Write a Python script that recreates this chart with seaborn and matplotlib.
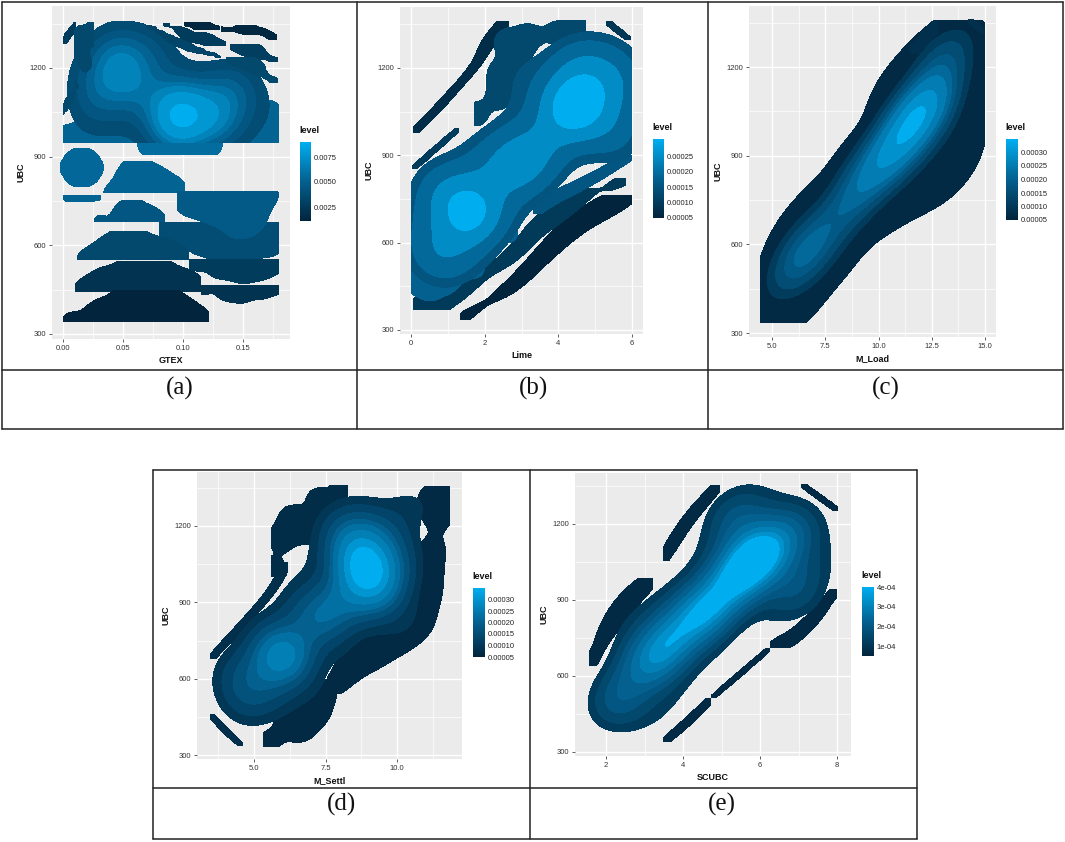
import numpy as np
import matplotlib
matplotlib.use("Agg")
import matplotlib.pyplot as plt
from matplotlib.colors import LinearSegmentedColormap, Normalize
from matplotlib.colorbar import ColorbarBase
from matplotlib.lines import Line2D
from matplotlib.patches import Rectangle
import seaborn as sns

# ---------- data: ridge and edge points of each density region ----------
ubc_ticks = [300, 600, 900, 1200]

a_main_x = [.045, .03, .06, .096, .096, .125, .07, .14, .02, .026, .042, .09, .125, .155, .172, .02, .05, .15, .097]
a_main_y = [1220, 1120, 1130, 1055, 1000, 1030, 1250, 1120, 1200, 1060, 1290, 1215, 1160, 1110, 1040, 1000, 970, 970, 960]
a_main_w = [5, 3, 4, 10, 4, 6, 2, 3, .6, .6, .8, .6, .6, .6, .6, .6, .6, .6, .6]
a_base_x = [.0, .04, .09, .14, .178, .172, .16, .02, .06]
a_base_y = [952, 955, 960, 955, 950, 1040, 1000, 975, 1000]
a_dip_x = [.07, .097, .125, .085, .11]
a_dip_y = [940, 925, 940, 950, 950]
a_circ_x = [.0156, .0105, .0207, .0156, .0156]
a_circ_y = [863, 863, 863, 840, 886]
a_lump1_x = [.04, .055, .065, .08, .096, .06]
a_lump1_y = [770, 840, 850, 825, 790, 790]
a_strip1_x = [.003, .015, .03, .015]
a_strip1_y = [775, 765, 775, 775]
a_trap_x = [.103, .125, .15, .176, .125, .145, .16, .105, .15]
a_trap_y = [775, 775, 775, 775, 710, 660, 690, 745, 720]
a_wing_x = [.085, .11, .14, .17, .178, .145, .12]
a_wing_y = [665, 640, 590, 610, 650, 580, 620]
a_lump2_x = [.03, .05, .058, .07, .08, .055]
a_lump2_y = [680, 705, 725, 700, 680, 680]
a_arch3_x = [.017, .035, .05, .065, .085, .102, .05, .08]
a_arch3_y = [550, 585, 620, 610, 575, 550, 550, 550]
a_lens2_x = [.11, .13, .15, .165, .178, .145]
a_lens2_y = [550, 525, 515, 525, 550, 550]
a_arch2_x = [.015, .035, .055, .08, .1, .113, .06, .085, .035]
a_arch2_y = [445, 480, 535, 535, 480, 445, 445, 445, 445]
a_lens3_x = [.117, .135, .15, .165, .178, .145]
a_lens3_y = [462, 445, 440, 450, 465, 465]
a_tri_x = [.005, .03, .05, .067, .085, .1, .118, .065, .035, .095]
a_tri_y = [345, 370, 430, 440, 430, 380, 345, 345, 345, 345]
a_s1_x = [.101, .117, .116, .131]
a_s1_y = [1354, 1345, 1335, 1330]
a_s1b_x = [.132, .153, .15, .168, .178]
a_s1b_y = [1332, 1345, 1325, 1322, 1296]
a_s2_x = [.083, .1, .105, .12, .122, .136]
a_s2_y = [1352, 1325, 1300, 1305, 1285, 1275]
a_s3_x = [.139, .16, .155, .179]
a_s3_y = [1280, 1272, 1250, 1219]
a_s4_x = [.069, .1, .098, .132]
a_s4_y = [1346, 1285, 1275, 1234]
a_s5_x = [.136, .16, .155, .179]
a_s5_y = [1236, 1222, 1200, 1149]
a_l1_x = [.0, .006, .004, .011]
a_l1_y = [1280, 1320, 1310, 1354]
a_l2_x = [.009, .013, .02, .025, .026, .013]
a_l2_y = [1130, 1250, 1210, 1300, 1354, 1320]
a_l3_x = [.0, .006, .003, .01]
a_l3_y = [1042, 1090, 1085, 1132]

b_main_x = [1.6, 4.4, 3.0, 0.9, 5.2, 4.6, 2.3, 5.5, 3.6, 1.0, .25, .7, 1.7, 2.47, 2.85, 3.2, 4.4, 5.2, 5.7, 5.7, 5.8, 5.8, 5.3, 3.8, 3.15, 2.6, 1.7, .9, .4, .3]
b_main_y = [700, 1065, 880, 560, 1130, 1200, 830, 980, 960, 780, 712, 800, 900, 960, 1130, 1200, 1220, 1260, 1200, 1170, 1131, 1010, 930, 880, 810, 690, 560, 535, 565, 631]
b_main_w = [10, 12, 5, 3, 3, 3, 3, 2, 3, 3, 1, 1, 1, 1, 1, 1, 1, 1, 1, 1, 1, 1, 1, 1, 1, 1, 1, 1, 1, 1]
b_s1_x = [.05, .9, 1.75, 2.2, 2.65]
b_s1_y = [976, 1085, 1205, 1320, 1362]
b_s2_x = [.03, .65, 1.3]
b_s2_y = [852, 920, 993]
b_s3_x = [1.75, 2.4, 2.4, 2.6, 3.2, 4.0, 4.7, 2.9]
b_s3_y = [1040, 1100, 1180, 1290, 1310, 1320, 1362, 1240]
b_s4_x = [5.3, 5.6, 5.97]
b_s4_y = [1362, 1330, 1295]
b_l1_x = [1.34, 2.8, 3.7, 4.4, 5.2, 6.0]
b_l1_y = [335, 455, 570, 665, 720, 765]
b_l2_x = [0.05, .5, 1.3, 2.7, 3.6, 4.3, 5.85]
b_l2_y = [378, 370, 430, 550, 670, 735, 822]
b_l3_x = [.05, .5, 1.0, 1.7, 2.6, .8]
b_l3_y = [476, 445, 480, 520, 640, 500]
b_l4_x = [3.3, 3.8, 4.5, 5.2, 6.0]
b_l4_y = [700, 755, 790, 840, 900]

c_base_x = [5.0, 5.3, 6.5, 8.5, 10.3, 11.5, 12.6, 13.3, 14.0, 14.4, 14.1, 13.7, 13.8, 13.3, 12.0, 10.4, 8.4, 6.4, 5.5, 5.2, 6, 8, 10, 12, 13.5]
c_base_y = [447, 600, 730, 910, 1110, 1195, 1270, 1295, 1250, 1174, 1056, 977, 890, 830, 785, 690, 530, 385, 385, 410, 500, 720, 900, 1000, 1150]
c_main_x = [12.1, 11.2, 10.2, 8.8, 7.0, 5.9, 13.0, 13.4, 6.0, 5.7, 6.1, 8.8, 10.6, 12.3, 13.8, 14.5, 13.9, 13.2, 11.4, 8.9, 7.6]
c_main_y = [1060, 960, 880, 760, 610, 510, 1210, 1270, 470, 510, 640, 870, 1070, 1270, 1270, 1170, 1000, 900, 810, 660, 510]
c_main_w = [15, 9, 9, 7, 7, 4, 4, 1.5, 1, 1, 1, 1, 1, 1, 1, 1, 1, 1, 1, 1, 1]
c_s1_x = [11.5, 12.2, 12.85]
c_s1_y = [1245, 1295, 1356]
c_s2_x = [14.2, 14.6, 15.0]
c_s2_y = [1362, 1340, 1313]

d_main_x = [8.9, 8.5, 9.2, 6.0, 7.2, 5.0, 9.6, 8.0, 10.2, 4.1, 4.3, 5.3, 6.3, 6.6, 7.6, 8.6, 10.4, 10.9, 10.8, 10, 8.4, 7.3, 6.0, 4.95, 4.4]
d_main_y = [1040, 1140, 950, 690, 830, 580, 1170, 900, 1050, 590, 667, 800, 920, 1070, 1220, 1280, 1310, 1270, 830, 760, 660, 530, 500, 470, 500]
d_main_w = [15, 7, 8, 12, 6, 4, 3, 5, 2, 1, 1, 1, 1, 1, 1, 1, 1, 1, 1, 1, 1, 1, 1, 1, 1]
d_s1_x = [3.45, 4.5, 5.55, 6.2]
d_s1_y = [676, 800, 930, 1058]
d_s2_x = [5.7, 5.95, 6.35, 7.3, 8.24, 6.9]
d_s2_y = [1022, 1150, 1230, 1300, 1360, 1180]
d_s3_x = [3.45, 4.0, 4.6]
d_s3_y = [462, 395, 335]
d_s4_x = [6.2, 5.5, 6.6, 7.2, 7.5, 6.8]
d_s4_y = [458, 350, 400, 480, 560, 470]
d_s5_x = [7.8, 8.4, 9.2, 9.8, 10.3, 10.8, 11.0, 11.15, 11.3, 11.5, 11.55, 11.2, 10.9, 10, 8.5]
d_s5_y = [570, 640, 690, 740, 780, 820, 900, 980, 1110, 1240, 1330, 1290, 1050, 850, 720]

e_main_x = [6.0, 5.4, 4.6, 3.2, 3.8, 2.3, 6.7, 5.4, 6.9, 2.1, 2.45, 2.85, 3.6, 4.25, 5.0, 5.6, 6.4, 7.2, 7.6, 7.75, 7.2, 6.2, 5.0, 4.1, 3.48, 2.87, 2.3]
e_main_y = [1080, 990, 860, 660, 760, 510, 1150, 1210, 950, 560, 760, 850, 930, 1090, 1240, 1320, 1310, 1240, 1140, 1040, 890, 790, 640, 520, 440, 420, 475]
e_main_w = [14, 13, 13, 10, 9, 4, 5, 4, 4, 1, 1, 1, 1, 1, 1, 1, 1, 1, 1, 1, 1, 1, 1, 1, 1, 1, 1]
e_s1_x = [1.56, 2.15, 2.5, 3.22]
e_s1_y = [638, 810, 890, 987]
e_s2_x = [3.48, 4.05, 4.95]
e_s2_y = [1053, 1210, 1355]
e_s3_x = [7.07, 7.55, 8.03]
e_s3_y = [1358, 1305, 1253]
e_s4_x = [3.48, 4.15, 4.74]
e_s4_y = [338, 420, 513]
e_s5_x = [4.74, 5.5, 6.25]
e_s5_y = [513, 610, 710]
e_s6_x = [6.25, 6.94, 7.4, 8.0]
e_s6_y = [710, 755, 830, 945]

# ---------- palette ----------
DARK, BRIGHT = "#02243c", "#00aef0"
level_cmap = LinearSegmentedColormap.from_list("level", [DARK, "#03608f", BRIGHT])
def shade(t):
    return matplotlib.colors.to_hex(level_cmap(t))

W, H = 1065, 842
sns.set_theme(style="white")
plt.rcParams["font.family"] = ["Liberation Sans", "DejaVu Sans"]
fig = plt.figure(figsize=(W / 100, H / 100), dpi=100, facecolor="white")


def make_axes(box, xa, ya, xticks, xlabels, xlabel):
    x0, x1, y0, y1 = box
    ax = fig.add_axes([x0 / W, 1 - y1 / H, (x1 - x0) / W, (y1 - y0) / H])
    (v1, p1), (v2, p2) = xa
    sx = (v2 - v1) / (p2 - p1)
    xlim = (v1 + (x0 - p1) * sx, v1 + (x1 - p1) * sx)
    (u1, q1), (u2, q2) = ya
    sy = (u2 - u1) / (q2 - q1)
    ylim = (u1 + (y1 - q1) * sy, u1 + (y0 - q1) * sy)
    ax.set_xlim(xlim)
    ax.set_ylim(ylim)
    ax.set_facecolor("#EBEBEB")
    for s in ax.spines.values():
        s.set_visible(False)
    ax.set_axisbelow(True)
    ax.set_xticks(xticks)
    ax.set_xticklabels(xlabels)
    ax.set_yticks(ubc_ticks)
    ax.set_yticklabels([str(t) for t in ubc_ticks])
    step = xticks[1] - xticks[0]
    minor = [xticks[0] - step / 2] + [t + step / 2 for t in xticks]
    ax.set_xticks([m for m in minor if xlim[0] < m < xlim[1]], minor=True)
    ax.set_yticks([450, 750, 1050, 1350], minor=True)
    ax.grid(True, which="major", color="white", lw=1.0)
    ax.grid(True, which="minor", color="white", lw=0.5)
    ax.tick_params(which="minor", length=0)
    ax.tick_params(which="major", length=2, width=.6, color="#444444", labelsize=5.5,
                   labelcolor="#333333", pad=2, left=True, bottom=True)
    ax.set_xlabel(xlabel, fontsize=6.5, color="#111111", labelpad=3, fontweight="bold")
    ax.set_ylabel("UBC", fontsize=6.5, color="#111111", labelpad=3, fontweight="bold")
    ax.set_autoscale_on(False)
    ax.px_scale = (abs(1 / sx), abs(1 / sy))
    return ax


def clip_new(ax, before, box):
    if box is None:
        return
    xl, xh, yl, yh = box
    for c in ax.collections[before:]:
        c.set_clip_path(Rectangle((xl, yl), xh - xl, yh - yl, transform=ax.transData))


def kernel_setup(ax, xs, ys, w, kernel_px, ratio):
    """seaborn's kernel copies the covariance of the points. Two small off-panel weights set that
    covariance, so the kernel has the pixel size and the length/width ratio asked for."""
    kx, ky = ax.px_scale
    xs, ys = np.asarray(xs, float), np.asarray(ys, float)
    w = np.ones_like(xs) if w is None else np.asarray(w, float)
    w = w / w.sum()
    P = np.c_[xs * kx, ys * ky]
    C = np.cov(P.T, aweights=w, bias=False)
    vals, vecs = np.linalg.eigh(C)
    lm, lM = vals
    D = 520.0
    eps = (lM / ratio ** 2 - lm) / (D ** 2 + lM / ratio ** 2 - lm)
    if eps > 1e-5:
        c = (P * w[:, None]).sum(0)
        far = np.array([c + D * vecs[:, 0], c - D * vecs[:, 0]])
        xs = np.r_[xs, far[:, 0] / kx]
        ys = np.r_[ys, far[:, 1] / ky]
        w = np.r_[w * (1 - eps), eps / 2, eps / 2]
    P2 = np.c_[xs * kx, ys * ky]
    C2 = np.cov(P2.T, aweights=w, bias=False)
    scott = (1 / (w ** 2).sum()) ** (-1 / 6)
    bw = kernel_px / (np.sqrt(np.linalg.eigvalsh(C2)[1]) * scott)
    return xs, ys, w, bw


def blob(ax, xs, ys, t, level=.2, px=14, ratio=1.0, box=None, w=None):
    """One flat piece: the region above an iso-density line, in one shade."""
    before = len(ax.collections)
    X, Y, W8, bw = kernel_setup(ax, xs, ys, w, px, ratio)
    sns.kdeplot(x=X, y=Y, weights=W8, ax=ax, fill=True, levels=[level, 1.0], color=shade(t),
                colors=[shade(t)], bw_adjust=bw, cut=3, gridsize=420)
    clip_new(ax, before, box)


def sliver(ax, xs, ys, t, width=7, level=.42, px=None):
    """A thin lens: clipped to the span of its own points, so its tips end where they were read."""
    kx, ky = ax.px_scale
    length = np.hypot((max(xs) - min(xs)) * kx, (max(ys) - min(ys)) * ky)
    along = length / max(len(xs) - 1, 1) * .62 if px is None else px
    blob(ax, xs, ys, t, level, along, along / width, (min(xs), max(xs), min(ys), max(ys)))


def body(ax, xs, ys, w, levels, ts, px, ratio, box):
    before = len(ax.collections)
    X, Y, W8, bw = kernel_setup(ax, xs, ys, w, px, ratio)
    sns.kdeplot(x=X, y=Y, weights=W8, ax=ax, fill=True, levels=list(levels) + [1.0],
                color=shade(ts[0]), colors=[shade(t) for t in ts], bw_adjust=bw, cut=3, gridsize=420)
    clip_new(ax, before, box)


def legend(box, vmin, vmax, ticks, labels):
    x0, x1, y0, y1 = box
    cax = fig.add_axes([x0 / W, 1 - y1 / H, (x1 - x0) / W, (y1 - y0) / H])
    cb = ColorbarBase(cax, cmap=level_cmap, norm=Normalize(vmin, vmax), ticks=ticks)
    cb.set_ticklabels(labels)
    cb.outline.set_visible(False)
    cax.tick_params(length=2, width=.5, direction="in", color="white", labelsize=5.5,
                    labelcolor="#222222", pad=2, right=True)
    fig.text((x0 - 1) / W, 1 - (y0 - 7) / H, "level", fontsize=6.5, fontweight="bold",
             color="#111111", va="bottom")


# ---------- panel a ----------
ax = make_axes((52, 290, 6, 339), ((0, 63), (.15, 243)), ((300, 334), (1200, 68)),
               [0, .05, .10, .15], ["0.00", "0.05", "0.10", "0.15"], "GTEX")
blob(ax, a_base_x, a_base_y, .52, .3, 12, 1.0, (0, .18, 946, 1100))
body(ax, a_main_x, a_main_y, a_main_w, [.1, .2, .32, .45, .6, .78, .94],
     [.33, .42, .52, .62, .72, .85, 1.0], 21, 1.0, (0, .18, 946, 1360))
blob(ax, a_dip_x, a_dip_y, .58, .3, 11, 1.0, (0, .18, 905, 947))
blob(ax, a_circ_x, a_circ_y, .55, .25, 12)
blob(ax, a_lump1_x, a_lump1_y, .52, .32, 12, 1.0, (.03, .102, 777, 885))
blob(ax, a_strip1_x, a_strip1_y, .52, .35, 8, 1.0, (0, .032, 745, 771))
blob(ax, a_wing_x, a_wing_y, .33, .3, 14, 1.0, (.08, .18, 530, 680))
blob(ax, a_trap_x, a_trap_y, .45, .3, 14, 1.0, (.095, .18, 600, 783))
blob(ax, a_lump2_x, a_lump2_y, .42, .35, 10, 1.0, (.022, .085, 679, 755))
blob(ax, a_arch3_x, a_arch3_y, .3, .32, 13, 1.0, (.012, .105, 550, 650))
blob(ax, a_lens2_x, a_lens2_y, .2, .3, 11, 1.0, (.105, .18, 470, 553))
blob(ax, a_arch2_x, a_arch2_y, .13, .32, 13, 1.0, (.01, .115, 442, 546))
blob(ax, a_lens3_x, a_lens3_y, .13, .32, 9, 1.0, (.115, .18, 400, 466))
blob(ax, a_tri_x, a_tri_y, .0, .32, 13, 1.0, (0, .122, 340, 450))
sliver(ax, a_s1_x, a_s1_y, .03, 3)
sliver(ax, a_s1b_x, a_s1b_y, .03, 3)
sliver(ax, a_s2_x, a_s2_y, .2, 4)
sliver(ax, a_s3_x, a_s3_y, .22, 4)
sliver(ax, a_s4_x, a_s4_y, .27, 2)
sliver(ax, a_s5_x, a_s5_y, .3, 4)
sliver(ax, a_l1_x, a_l1_y, .2, 2)
sliver(ax, a_l2_x, a_l2_y, .3, 5)
sliver(ax, a_l3_x, a_l3_y, .3, 2)
legend((300, 311, 142, 221), .0011, .0090, [.0025, .005, .0075], ["0.0025", "0.0050", "0.0075"])

# ---------- panel b ----------
ax = make_axes((400, 643, 7, 334), ((0, 411), (6, 632)), ((300, 330), (1200, 68)),
               [0, 2, 4, 6], ["0", "2", "4", "6"], "Lime")
sliver(ax, b_l1_x, b_l1_y, .0, 8)
sliver(ax, b_l2_x, b_l2_y, .18, 8)
sliver(ax, b_s1_x, b_s1_y, .08, 4)
sliver(ax, b_s2_x, b_s2_y, .2, 2)
blob(ax, b_s3_x, b_s3_y, .3, .3, 11, 1.0, (1.7, 4.75, 1000, 1365))
sliver(ax, b_s4_x, b_s4_y, .15, 2)
blob(ax, b_l3_x, b_l3_y, .5, .3, 11, 1.0, (0, 6, 400, 800))
sliver(ax, b_l4_x, b_l4_y, .42, 5)
body(ax, b_main_x, b_main_y, b_main_w, [.13, .22, .46, .82], [.4, .56, .78, 1.0], 23, 1.0, (0, 6, 330, 1400))

# ---------- panel c ----------
ax = make_axes((749, 996, 6, 337), ((5, 772), (15, 985)), ((300, 333), (1200, 67)),
               [5, 7.5, 10, 12.5, 15], ["5.0", "7.5", "10.0", "12.5", "15.0"], "M_Load")
blob(ax, c_base_x, c_base_y, .05, .2, 32, 2.0, (4.45, 15, 335, 1360))
sliver(ax, c_s1_x, c_s1_y, .1, 4)
sliver(ax, c_s2_x, c_s2_y, .1, 2)
body(ax, c_main_x, c_main_y, c_main_w, [.2, .3, .42, .55, .68, .82, .95],
     [.2, .34, .44, .56, .68, .82, 1.0], 30, 1.8, (4.5, 15, 335, 1400))

# ---------- panel d ----------
ax = make_axes((197, 462, 472, 759), ((5, 254), (10, 397)), ((300, 755), (1200, 526)),
               [5, 7.5, 10], ["5.0", "7.5", "10.0"], "M_Settl")
sliver(ax, d_s1_x, d_s1_y, .1, 3)
sliver(ax, d_s3_x, d_s3_y, .1, 2)
blob(ax, d_s2_x, d_s2_y, .08, .3, 11, 1.0, (5.6, 8.3, 1000, 1362))
blob(ax, d_s4_x, d_s4_y, .05, .3, 13, 1.0, (5.3, 7.9, 333, 600))
blob(ax, d_s5_x, d_s5_y, .05, .3, 14, 1.0, (7.4, 11.85, 500, 1358))
body(ax, d_main_x, d_main_y, d_main_w, [.14, .22, .32, .44, .56, .7, .82, .9],
     [.16, .28, .38, .5, .6, .7, .84, 1.0], 21, 1.0, (3.4, 12, 330, 1400))

# ---------- panel e ----------
ax = make_axes((575, 851, 473, 756), ((2, 606), (8, 837)), ((300, 752), (1200, 524)),
               [2, 4, 6, 8], ["2", "4", "6", "8"], "SCUBC")
sliver(ax, e_s1_x, e_s1_y, .05, 7)
sliver(ax, e_s2_x, e_s2_y, .05, 4)
sliver(ax, e_s3_x, e_s3_y, .05, 2)
sliver(ax, e_s4_x, e_s4_y, .05, 3)
sliver(ax, e_s5_x, e_s5_y, .05, 2)
sliver(ax, e_s6_x, e_s6_y, .05, 5)
body(ax, e_main_x, e_main_y, e_main_w, [.13, .2, .29, .38, .48, .58, .68, .78],
     [.2, .3, .42, .5, .6, .7, .82, 1.0], 24, 1.3, (1.5, 8, 330, 1400))

# ---------- legends of b-e ----------
legend((653, 664, 139, 218), .00005, .000305, [.00005, .0001, .00015, .0002, .00025],
       ["0.00005", "0.00010", "0.00015", "0.00020", "0.00025"])
legend((1006, 1018, 139, 220), .00005, .00035, [.00005, .0001, .00015, .0002, .00025, .0003],
       ["0.00005", "0.00010", "0.00015", "0.00020", "0.00025", "0.00030"])
legend((473, 485, 588, 657), .00005, .00035, [.00005, .0001, .00015, .0002, .00025, .0003],
       ["0.00005", "0.00010", "0.00015", "0.00020", "0.00025", "0.00030"])
legend((862, 874, 587, 656), .00005, .0004, [.0001, .0002, .0003, .0004],
       ["1e-04", "2e-04", "3e-04", "4e-04"])

# ---------- frame and captions ----------
def frame(x0, y0, x1, y1):
    fig.add_artist(Line2D([x0 / W, x1 / W], [1 - y0 / H, 1 - y1 / H], color="#222222", lw=1.1))

for seg in [(2, 2, 1063, 2), (2, 429, 1063, 429), (2, 370, 1063, 370), (2, 2, 2, 429),
            (1063, 2, 1063, 429), (357, 2, 357, 429), (708, 2, 708, 429),
            (153, 470, 917, 470), (153, 839, 917, 839), (153, 788, 917, 788),
            (153, 470, 153, 839), (917, 470, 917, 839), (530, 470, 530, 839)]:
    frame(*seg)

for label, x, y in [("(a)", 180, 388), ("(b)", 534, 388), ("(c)", 886, 388),
                    ("(d)", 342, 804), ("(e)", 722, 804)]:
    fig.text(x / W, 1 - y / H, label, fontsize=18, family=["Liberation Serif"],
             ha="center", va="center", color="#111111")

fig.savefig("out.png", dpi=100)
